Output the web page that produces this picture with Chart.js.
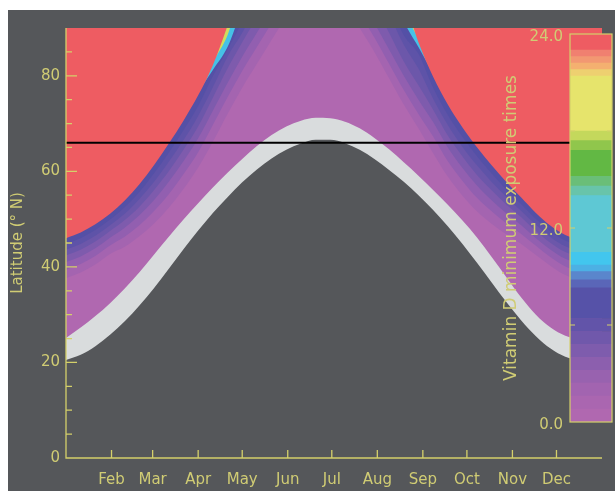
<!DOCTYPE html>
<html>
<head>
<meta charset="utf-8">
<script src="https://cdn.jsdelivr.net/npm/chart.js@4.4.1/dist/chart.umd.min.js"></script>
<style>
  html, body { margin: 0; padding: 0; background: #fff; }
  #wrap { position: relative; width: 615px; height: 491px; }
  #main { position: absolute; left: 0; top: 0; }
  #bar { position: absolute; left: 490px; top: 0; }
</style>
</head>
<body>
<div id="wrap">
  <canvas id="main" width="615" height="491"></canvas>
  <canvas id="bar" width="125" height="491"></canvas>
</div>
<script>
// day of year samples (shared by every contour below)
const days = [0,10,20,30,40,50,60,70,80,90,100,110,120,130,140,150,160,170,180,190,200,210,220,230,240,250,260,270,280,290,300,310,320,330,340,350,360,365];

// latitude of each contour (values > 90 lie above the frame)
const edge24h   = [46.0,47.2,48.9,51.1,53.9,57.3,61.3,65.8,70.6,75.9,82.2,90.5,100,100,100,100,100,100,100,100,100,100,100,96,87.0,79.8,74.0,69.2,65.0,61.2,57.7,54.5,51.3,48.6,46.7,45.9,45.8,46.0];
const edge20h   = [46.6,47.8,49.5,51.7,54.5,57.9,61.9,66.4,71.2,76.5,82.8,88.5,98,100,100,100,100,100,100,100,100,100,100,93.5,87.6,80.4,74.6,69.8,65.6,61.8,58.3,55.1,51.9,49.2,47.3,46.5,46.4,46.6];
const edge12h   = [46.6,47.8,49.5,51.7,54.5,57.9,61.9,66.4,71.2,76.5,81.2,86.0,94.0,100,100,100,100,100,100,100,100,100,100,91.5,86.0,80.4,74.6,69.8,65.6,61.8,58.3,55.1,51.9,49.2,47.3,46.5,46.4,46.6];
const edge8h    = [44.8,46.0,47.7,49.9,52.5,55.7,59.6,63.9,68.6,73.7,79.9,85.5,91.5,100,100,100,100,100,100,100,100,100,95,88.5,84.6,77.5,71.8,67.2,63.1,59.5,56.1,53.1,50.0,47.4,45.5,44.7,44.6,44.8];
const edge7h    = [43.6,44.8,46.5,48.7,51.1,54.2,57.8,62.0,66.5,71.6,77.6,84.0,89.0,95,100,100,100,100,100,100,100,100,93.0,86.5,81.5,75.2,69.7,65.1,61.2,57.7,54.6,51.7,48.8,46.2,44.3,43.5,43.4,43.6];
const edge6h    = [42.4,43.6,45.3,47.5,49.8,52.6,56.1,60.0,64.5,69.4,75.4,81.5,87.0,92.5,100,100,100,100,100,100,100,95,89.0,83.0,78.0,72.9,67.5,63.1,59.2,56.0,53.0,50.4,47.5,45.0,43.1,42.3,42.2,42.4];
const edge5h    = [41.0,42.2,43.9,46.1,48.2,50.8,54.0,57.8,62.1,66.9,72.7,78.5,84.0,89.0,94.0,100,100,100,100,100,96,91.0,85.5,80.0,75.0,70.3,65.0,60.7,57.0,53.9,51.2,48.7,46.0,43.6,41.7,40.9,40.8,41.0];
const edge4h    = [39.4,40.6,42.3,44.5,46.3,48.7,51.7,55.2,59.4,64.0,69.7,75.5,81.0,86.0,91.0,96,100,100,100,98,93.0,88.0,82.5,77.0,72.0,67.3,62.1,58.0,54.4,51.6,49.1,46.9,44.4,42.0,40.1,39.3,39.2,39.4];
const edge3h    = [37.6,38.8,40.5,42.7,44.2,46.4,49.1,52.4,56.3,60.8,66.2,72.0,77.5,82.5,87.5,92.5,98,100,100,95,90.0,85.0,79.5,74.0,69.0,63.8,58.9,54.9,51.6,49.0,46.8,44.8,42.5,40.2,38.3,37.5,37.4,37.6];
const whiteTop  = [25.1,27.3,29.7,32.4,35.5,38.9,42.6,46.3,49.9,53.3,56.6,59.7,62.6,65.3,67.6,69.4,70.6,71.2,71.1,70.4,69.0,67.0,64.6,61.9,59.1,56.1,53.0,49.7,46.1,42.0,37.8,33.6,30.0,27.3,25.6,24.9,24.9,25.1];
const whiteBottom = [20.5,21.6,23.4,25.8,28.6,31.9,35.6,39.6,43.7,47.6,51.3,54.6,57.7,60.4,62.7,64.5,65.8,66.6,66.6,65.9,64.5,62.6,60.3,57.8,55.0,51.9,48.5,44.8,40.8,36.7,32.6,28.8,25.5,22.9,21.2,20.5,20.4,20.5];
const arcticLat = 66;

// axes
const monthStarts = [31,59,90,120,151,181,212,243,273,304,334];
const monthLabels = ['Feb','Mar','Apr','May','Jun','Jul','Aug','Sep','Oct','Nov','Dec'];
const latMajor = [0,20,40,60,80];
const latMinor = [5,10,15,25,30,35,45,50,55,65,70,75,85];

// colour bar (hours)
const cbEdges = [0,0.8,1.6,2.4,3.2,4.0,4.8,5.6,6.4,8.3,8.8,9.3,9.7,10.5,14.0,14.6,15.2,16.8,17.4,18.0,21.4,21.8,22.2,22.6,23.0,24.0];
const cbColors = ['#b068b0','#aa66b0','#a264b0','#9862af','#8c5fae','#7e5cad','#7058ab','#6254a9','#5652a8','#5a66b8','#5a86cc','#4cb0e4','#42c6ee','#5ec8d4','#68c4aa','#6abe78','#62b844','#90c64c','#c4d85c','#e6e46c','#eed070','#f4b070','#f29872','#f08070','#ee5c62'];
const cbTicks = [0,12,24];
const cbMinor = [6,12,18];

const bgGray = '#55575a';
const axisColor = '#d4d06a';
const labelColor = '#d0cc74';
const fontFam = "'DejaVu Sans', sans-serif";

function series(vals) {
  return days.map((d, i) => ({ x: d, y: vals[i] }));
}

function band(label, vals, color) {
  return {
    label,
    data: series(vals),
    fill: 'end',
    backgroundColor: color,
    borderColor: 'rgba(0,0,0,0)',
    borderWidth: 0,
    pointRadius: 0,
    cubicInterpolationMode: 'monotone',
  };
}

const framePlugin = {
  id: 'frame',
  beforeDraw(chart) {
    const c = chart.ctx;
    c.save();
    c.fillStyle = '#ffffff';
    c.fillRect(0, 0, chart.width, chart.height);
    c.fillStyle = bgGray;
    c.fillRect(8, 10, chart.width - 8, chart.height - 10);
    c.restore();
  },
  afterDatasetsDraw(chart) {
    const { ctx, chartArea: a, scales: { x, y } } = chart;
    ctx.save();
    ctx.strokeStyle = axisColor;
    ctx.lineWidth = 1.3;
    ctx.beginPath();
    ctx.moveTo(a.left, a.top);
    ctx.lineTo(a.left, a.bottom);
    ctx.lineTo(a.right, a.bottom);
    latMajor.forEach(v => {
      const py = y.getPixelForValue(v);
      ctx.moveTo(a.left, py); ctx.lineTo(a.left + 11, py);
    });
    latMinor.forEach(v => {
      const py = y.getPixelForValue(v);
      ctx.moveTo(a.left, py); ctx.lineTo(a.left + 6, py);
    });
    monthStarts.forEach(v => {
      const px = x.getPixelForValue(v);
      ctx.moveTo(px, a.bottom); ctx.lineTo(px, a.bottom - 8);
    });
    ctx.stroke();
    ctx.restore();
  }
};

new Chart(document.getElementById('main'), {
  type: 'line',
  data: {
    datasets: [
      { label: 'Arctic circle', data: [{ x: 0, y: arcticLat }, { x: 365, y: arcticLat }],
        borderColor: '#000', borderWidth: 2, pointRadius: 0, fill: false },
      band('24 h', edge24h, '#ee5c62'),
      band('20 h', edge20h, '#d0dc5c'),
      band('12 h', edge12h, '#46c2e6'),
      band('8 h', edge8h, '#5450a6'),
      band('7 h', edge7h, '#5e53a8'),
      band('6 h', edge6h, '#6c57aa'),
      band('5 h', edge5h, '#7e5bad'),
      band('4 h', edge4h, '#925fb0'),
      band('3 h', edge3h, '#a464b0'),
      band('under 3 h', whiteTop, '#b068b0'),
      band('white', whiteBottom, '#d9dcdd'),
    ]
  },
  options: {
    responsive: false,
    animation: false,
    devicePixelRatio: 1,
    events: [],
    layout: { padding: { top: 28, right: 13, left: 0, bottom: 0 } },
    plugins: { legend: { display: false }, tooltip: { enabled: false } },
    scales: {
      x: {
        type: 'linear', min: 0, max: 365,
        afterBuildTicks: s => { s.ticks = monthStarts.map(v => ({ value: v })); },
        afterFit: s => { s.height = 33; },
        grid: { display: false, drawTicks: false },
        border: { display: false },
        ticks: { autoSkip: false, maxRotation: 0, padding: 13, color: labelColor,
                 font: { family: fontFam, size: 15 },
                 callback: (v, i) => monthLabels[i] }
      },
      y: {
        type: 'linear', min: 0, max: 90,
        afterBuildTicks: s => { s.ticks = latMajor.map(v => ({ value: v })); },
        afterFit: s => { s.width = 66; },
        grid: { display: false, drawTicks: false },
        border: { display: false },
        ticks: { padding: 6, color: labelColor, font: { family: fontFam, size: 15 },
                 callback: v => String(v) },
        title: { display: true, text: 'Latitude (° N)', color: labelColor,
                 font: { family: fontFam, size: 15 }, padding: { top: 9, bottom: 0 } }
      }
    }
  },
  plugins: [framePlugin]
});

const cbFramePlugin = {
  id: 'cbframe',
  afterDatasetsDraw(chart) {
    const { ctx, chartArea: a, scales: { y } } = chart;
    ctx.save();
    ctx.strokeStyle = axisColor;
    ctx.lineWidth = 1.2;
    ctx.strokeRect(a.left, a.top, a.right - a.left, a.bottom - a.top);
    ctx.beginPath();
    cbMinor.forEach(v => {
      const py = y.getPixelForValue(v);
      ctx.moveTo(a.left, py); ctx.lineTo(a.left + 5, py);
      ctx.moveTo(a.right, py); ctx.lineTo(a.right - 5, py);
    });
    ctx.stroke();
    ctx.restore();
  }
};

new Chart(document.getElementById('bar'), {
  type: 'bar',
  data: {
    labels: [''],
    datasets: cbColors.map((col, i) => ({
      data: [cbEdges[i + 1] - cbEdges[i]],
      backgroundColor: col,
      borderWidth: 0,
      barPercentage: 1,
      categoryPercentage: 1,
      stack: 'cb'
    }))
  },
  options: {
    responsive: false,
    animation: false,
    devicePixelRatio: 1,
    events: [],
    layout: { padding: { top: 34, bottom: 69, right: 3, left: 0 } },
    plugins: { legend: { display: false }, tooltip: { enabled: false } },
    scales: {
      x: { display: false, stacked: true },
      y: {
        stacked: true, min: 0, max: 24, position: 'left',
        afterBuildTicks: s => { s.ticks = cbTicks.map(v => ({ value: v })); },
        afterFit: s => { s.width = 80; },
        grid: { display: false, drawTicks: false },
        border: { display: false },
        ticks: { padding: 7, labelOffset: 3, color: labelColor, font: { family: fontFam, size: 15 },
                 callback: v => v.toFixed(1) },
        title: { display: true, text: 'Vitamin D minimum exposure times', color: labelColor,
                 font: { family: fontFam, size: 17 }, padding: { top: 11, bottom: 0 } }
      }
    }
  },
  plugins: [cbFramePlugin]
});
</script>
</body>
</html>
